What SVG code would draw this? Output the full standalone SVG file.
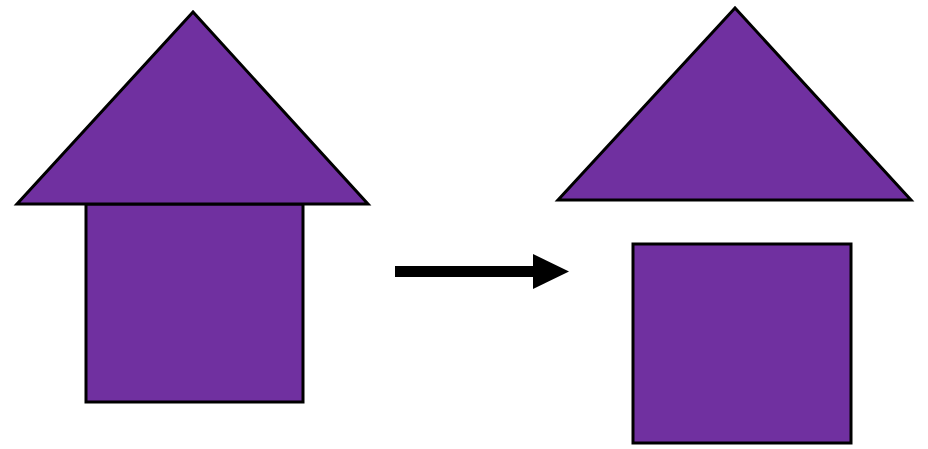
<svg xmlns="http://www.w3.org/2000/svg" width="928" height="449" viewBox="0 0 928 449">
<style>
.s{fill:#7030A0;stroke:#000;stroke-width:3;stroke-linejoin:miter}
</style>
<rect width="928" height="449" fill="#fff"/>
<g id="left-house">
<rect class="s" x="86" y="204" width="217" height="198"/>
<polygon class="s" points="193,12 17,204 368,204"/>
</g>
<g id="connectors">
<rect x="395" y="266" width="139" height="11" fill="#000"/>
<polygon points="533,254 569,271.5 533,289" fill="#000"/>
</g>
<g id="right-roof">
<polygon class="s" points="735,8 558,200 911,200"/>
</g>
<g id="right-box">
<rect class="s" x="633" y="244" width="218" height="199"/>
</g>
</svg>
